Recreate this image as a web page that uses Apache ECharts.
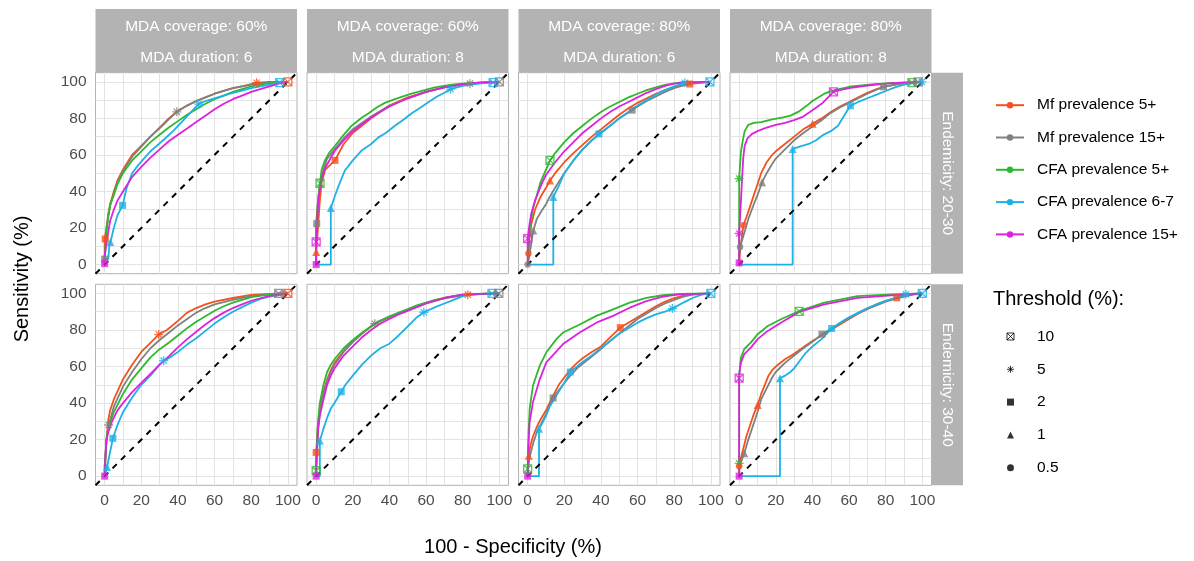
<!DOCTYPE html>
<html>
<head>
<meta charset="utf-8">
<title>ROC curves by MDA scenario</title>
<script src="https://cdn.jsdelivr.net/npm/echarts@6/dist/echarts.min.js"></script>
<style>
  html, body { margin: 0; padding: 0; background: #ffffff; }
  #chart { width: 1194px; height: 561px; }
</style>
</head>
<body>
<div id="chart"></div>
<script>
// Facet labels
const coverage = ['60%', '60%', '80%', '80%'];
const duration = ['6', '8', '6', '8'];
const endemicity = ['20-30', '30-40'];

// Indicators (one ROC curve each per panel)
const indicatorNames = ['Mf prevalence 5+', 'Mf prevalence 15+', 'CFA prevalence 5+', 'CFA prevalence 6-7', 'CFA prevalence 15+'];
const indicatorColors = ['#F4511E', '#808080', '#2EB82E', '#1DB2E6', '#DD22DD'];

// Axis ticks
const labelTicks = [0, 20, 40, 60, 80, 100];
const gridTicks = [0, 10, 20, 30, 40, 50, 60, 70, 80, 90, 100];

// ROC curves: [100 - specificity, sensitivity], panels 0-3 endemicity 20-30, panels 4-7 endemicity 30-40
const rocMf5 = [
  [[0,0],[0,14],[1,20],[2,28],[3,33],[5,40],[7,46],[10,52],[15,60],[20,65],[25,70],[30,75],[35,80],[40,84],[45,87],[50,89.5],[55,91.5],[60,93.5],[65,95],[70,96.5],[75,97.5],[80,98.8],[83,99.5],[90,100],[100,100]],
  [[0,0],[0,7],[1,20],[2,35],[3,45],[5,52],[10.3,57],[15,66],[20,72],[30,80],[40,87],[50,91.5],[60,94.5],[70,97],[80,98.8],[90,99.6],[100,100]],
  [[0,0],[0.4,6],[1,14],[2,22],[4,30],[7,37],[10,42],[12.2,46],[15,50],[20,56],[25,61],[30,65.5],[35,70],[40,74],[45,78],[50,82],[55,85.5],[60,88.5],[65,91],[70,93.5],[75,95.5],[80,97.2],[88.5,98.8],[95,99.6],[100,100]],
  [[0,0],[0.5,8],[1.5,15],[2.3,21.5],[4,26],[6,32],[8,38],[10,44],[12,50],[15,56],[18,60],[20,62],[25,66],[30,70],[35,74],[40,77],[45,80],[50,83.5],[55,86.5],[60,89],[65,91.5],[70,94],[75,96],[80,97.5],[90,99.3],[100,100]],
  [[0,0],[0,5],[1,20],[2,31],[3,36],[5,42],[10,53],[15,61],[20,68],[25,73],[29.5,77.5],[34,80],[40,85],[45,89.5],[50,92],[55,94],[60,95.5],[70,97.5],[80,99.2],[90,99.8],[100,100]],
  [[0,0],[0,13],[1,28],[2,37],[4,46],[6,53],[8,58],[10,62],[15,68.5],[20,73.5],[25,78],[30,82],[35,85],[40,87],[45,89],[50,91],[55,93],[60,94.8],[65,96.3],[70,97.5],[75,98.4],[82.8,99.3],[90,99.8],[100,100]],
  [[0,0],[0.6,11],[1.5,17],[3,22],[5,27],[7,31],[10,36],[13.9,44],[17,50],[20,54],[23.3,58.3],[27,62],[30,64.5],[35,68],[40,71],[45,76],[50.6,81.3],[55,84],[60,87],[65,90],[70,93],[75,95.5],[80,97.5],[85,98.8],[90,99.5],[100,100]],
  [[0,0],[0,5.4],[1,10],[2,14],[4,22],[6,28],[8,34],[10.1,39],[12,45],[14,50],[16,55],[18,58],[20,60],[25,64],[30,67],[35,70.5],[40,74],[45,77],[50,80],[55,83],[60,86],[65,89],[70,91.5],[75,94],[80,96],[86,97.6],[90,98.8],[95,99.6],[100,100]]
];
const rocMf15 = [
  [[0,0],[0,3],[1,18],[2,27],[3,32],[5,39],[7,45],[10,51],[15,59],[20,64.5],[25,70],[30,74.5],[35,79.5],[39.4,83.6],[45,87],[50,89.5],[55,91.5],[60,93.5],[65,95],[70,96.5],[75,97.5],[80,98.5],[90,99.7],[100,100]],
  [[0,0],[0,22.4],[1,35],[2,44],[4,52],[6,58],[10,63],[15,69],[20,74],[30,81],[40,87],[50,91],[60,94.5],[70,97],[84,99],[100,100]],
  [[0,0],[1,5],[2,12],[3.1,18.7],[5,25],[8,30],[10,33],[12,37],[15,42],[20,50],[25,57],[30,63],[35,68],[40,72],[45,76],[50,80],[57,84.5],[60,86.5],[65,89.5],[70,92],[75,94.5],[80,96.5],[85,98],[90,99.3],[100,100]],
  [[0,0],[0,5],[0.5,9.6],[3,18],[5,25],[8,33],[10,38],[12.5,45],[15,50],[18,55],[20,58],[25,63],[30,68],[35,72],[40,75.5],[45,79],[50,83],[55,86],[60,88.5],[65,91],[70,93.5],[78.8,97.3],[85,98.5],[92,99.5],[100,100]],
  [[0,0],[0,5],[1,20],[2.2,28],[5,38],[10,49],[15,57],[20,64],[25,70],[30,74.5],[35,78.5],[40,82.5],[45,86],[50,89.5],[55,92],[60,94],[70,96.5],[80,98.5],[90,99.5],[95,100],[100,100]],
  [[0,0],[0,2],[1,25],[2,35],[4,45],[6,52],[8,57],[10,61],[15,68],[20,73.5],[25,78],[32,83.4],[35,85],[40,87],[45,89],[50,91],[60,94.5],[70,97.3],[80,99],[90,99.6],[99.7,100],[100,100]],
  [[0,0],[0,3],[1,10],[3,18],[5,24],[8,30],[10,34],[13.9,42.8],[17,47],[20,51],[23.3,55],[27,59],[30,61.5],[35,65.5],[40,69.5],[45,74],[50,78],[55,82],[60,86],[65,89],[70,92],[75,94.5],[80,96.5],[85,98.3],[90,99.3],[100,100]],
  [[0,0],[0,3],[1,8],[2.8,12.5],[5,20],[8,29],[10,35],[12,42],[15,48],[18,54],[20,57],[25,62],[30,66],[35,70],[40,73.5],[45.2,77.7],[50,80.5],[55,83.5],[60,86.5],[65,89],[70,91.5],[75,93.5],[80,95.5],[85,97],[90,98.3],[95,99.3],[100,100]]
];
const rocCfa5 = [
  [[0,0],[0.5,10],[1,20],[2,26],[3,33],[5,38],[7,44],[10,50],[15,57],[20,62],[25,67],[30,71],[35,75],[40,78.5],[45,82],[50,85],[55,88],[60,90.5],[65,92.5],[70,94.5],[75,96],[80,97.5],[85,98.5],[90,99.3],[100,100]],
  [[0,0],[0,20],[1,35],[2.1,44.5],[3,52],[4.8,57],[7,61],[10.3,65],[15,71],[19.4,76],[25,80.5],[28.5,82.7],[33,86],[37.5,88.5],[43,90.5],[52,93.6],[64.8,97],[74,98.4],[83,99.3],[100,100]],
  [[0,0],[0.5,10],[1,18],[2,25],[3,31],[5,38],[7,45],[10,52],[12.2,57],[15,61],[20,67],[25,72],[30,76],[35,80],[40,83.5],[45,86.5],[50,89],[55,91.5],[60,93.5],[65,95.5],[70,97],[75,98.3],[80,99.2],[85,99.8],[100,100]],
  [[0,0],[0,47],[0.5,55],[1,62],[2,68],[3,73],[5,76.5],[8,77.5],[12,78],[18,79.5],[24,80.5],[28,81.5],[33,84],[37,87],[40,89.5],[46.5,93.5],[52,95.5],[60,97.3],[74,98.7],[85,99.4],[94.3,99.6],[100,100]],
  [[0,0],[0.5,10],[1,20],[2,27],[5,35],[10,45],[15,53],[20,59],[25,65],[30,69.5],[35,73],[40,77],[45,81],[50,84.5],[55,87.5],[60,90.5],[65,93],[70,95],[80,98],[90,99.5],[100,100]],
  [[0,0],[0,3],[0.5,20],[1,30],[2,40],[4,50],[6,57],[8,61],[10,64],[15,70],[20,74.5],[25,78.5],[30,82],[35,85],[40,87.5],[45,89.5],[50,91.5],[55,93.5],[60,95],[65,96.5],[70,97.5],[75,98.5],[80,99.3],[85,99.7],[100,100]],
  [[0,0],[0,4],[0.5,24],[1.1,37],[2.9,49.6],[6.6,60.5],[10.2,67.8],[15.7,75],[19.3,78.6],[28.4,83],[37.5,87.7],[46.6,91.3],[55.7,95],[64.8,97.6],[73.8,99],[83,99.8],[100,100]],
  [[0,0],[0,7],[0,55],[0.5,60],[1,65],[2.8,69.6],[6.5,73.2],[10.1,77.7],[15.6,82.2],[22.8,85.9],[32.8,90.4],[46.5,95],[64.6,98.5],[83,99.5],[100,100]]
];
const rocCfa67 = [
  [[0,0],[0,3],[2,3],[2.5,10],[3.1,12],[5,20],[7,27],[9.8,32.4],[12,42],[15,50],[18,54],[21.3,57.8],[25,62],[28.5,65],[33,69],[37.6,73.3],[42,78],[46.7,83],[51.3,87.8],[55,89.5],[60,91],[65,92.5],[70,94],[75,95.2],[80,96.5],[85,97.5],[90,98.5],[95.5,99.6],[100,100]],
  [[0,0],[8,0],[8,31],[10.3,37.8],[13,45],[15.7,51.5],[20,57],[24.8,62.4],[30,66],[34,69.6],[38,72],[43,76],[48,79.5],[52,82.7],[57,86],[61,88.7],[66,92],[70.3,94.2],[73.4,96],[80,97.8],[83,98.4],[90,99.2],[96.6,99.6],[100,100]],
  [[0,0],[14,0],[14,37],[17,43],[20,50],[25,57],[30,63],[35,68],[38.9,71.5],[45,76],[50,80],[55,83.5],[60,87],[65,90],[70,93],[75,95.5],[80,97.5],[85.8,99.5],[92,100],[100,100]],
  [[0,0],[29.2,0],[29.2,63.3],[33,64.5],[38,66],[42,68],[46,71],[50,73],[54,76],[57,81],[60.7,86.9],[65,89],[70,91],[75,93],[80,95],[85,97],[90,98.5],[95,99.3],[99.7,100],[100,100]],
  [[0,0],[1.3,5],[4.5,20.7],[7,28],[10,35],[15,43],[20,50],[25,55],[30,61],[32.2,63.2],[35,64.5],[40,68],[45,72],[50,75.5],[55,79.5],[60,83.5],[65,87],[70,90],[75,92.5],[80,95],[85,97],[90,98.3],[95,99],[100,100]],
  [[0,0],[2,0],[2,19.4],[4,26],[6,32],[8,37],[10,40],[13.7,46.2],[16,50],[20,55],[25,61],[30,66],[35,70],[40,72.5],[45,77],[50,82],[55,87],[58.8,89.7],[65,92.5],[70,94.5],[75,96.5],[80,98.5],[85,99.5],[96,100],[100,100]],
  [[0,0],[6.2,0],[6.2,26],[8,29],[10,33],[12,38],[15,43],[18,48],[20,51],[23.3,57],[27,60],[30,62.5],[35,66],[40,70],[45,74],[50,78],[55,81],[60,84],[65,86.5],[70,88.5],[75,90],[79,91.7],[85,95],[90,97.5],[95,99.3],[100,100]],
  [[0,0],[22.3,0],[22.3,53.6],[25,55],[28,57],[30,59],[33,63],[36,67],[40,71],[45,75],[50.5,80.8],[55,84],[60,87],[65,89.5],[70,92],[75,94],[80,96],[85,97.5],[91,99.5],[95,99.8],[100,100]]
];
const rocCfa15 = [
  [[0,0],[0,5],[1,12],[2,18],[3,24],[5,30],[7,35],[10,40],[15,48],[20,53.5],[25,58.5],[30,63],[35,67.5],[40,71],[45,74.5],[50,78],[55,81.5],[60,85],[65,88],[70,90.5],[75,92.5],[80,94.5],[85,96],[90,97.5],[95,99],[100,100]],
  [[0,0],[0,12.4],[0.5,25],[1.5,38],[3,47],[5,53],[10,62],[15,68],[20,73],[30,80.5],[40,86.5],[50,91],[60,94.5],[70,97],[80,98.8],[90,99.7],[100,100]],
  [[0,0],[0,14.2],[1,22],[2,28],[4,35],[6,40],[8,45],[10,49],[15,56],[20,62],[25,67],[30,72],[35,76],[40,80],[45,83.5],[50,86.5],[55,89],[60,91.5],[65,94],[70,96],[75,97.8],[80,99],[85,99.7],[100,100]],
  [[0,0],[0,17],[0.7,30],[1.5,45],[2.2,58],[3,65],[4.5,69],[7,71.5],[10,73],[15,75],[20,76.5],[25,77.5],[30,79],[35,81],[40,84.5],[45,88],[48,91],[51.5,94.5],[55,95.5],[60,96.5],[70,98],[80,99],[90,99.7],[100,100]],
  [[0,0],[0.5,12],[1,20],[2,24],[4,30],[7,36],[10,40],[15,46],[20,51],[25,56],[30,61],[35,65.5],[40,70.5],[45,75],[50,79],[55,83],[60,86.5],[65,89.5],[70,92],[75,94],[80,96],[90,98.7],[100,100]],
  [[0,0],[0,5],[0.5,15],[1,25],[2,33],[4,42],[6,50],[8,55],[10,59],[15,66],[20,71],[25,76],[30,80],[35,83.5],[40,86],[45,88.5],[50,90.5],[55,92.5],[60,94.5],[65,96],[70,97.5],[75,98.5],[80,99.3],[90,99.8],[100,100]],
  [[0,0],[0.3,15],[1.1,29.7],[2.9,40.6],[6.6,53],[10.2,62.3],[19.3,72.3],[28.4,78.6],[37.5,84],[46.6,87.7],[55.7,92.2],[64.8,95.8],[73.8,98.2],[83,99.5],[100,100]],
  [[0,0],[0,53.6],[0.3,58],[1,62.3],[2.8,66.8],[6.5,70.5],[10.1,75],[15.6,79.5],[22.8,84],[32.8,89.9],[46.5,94],[64.6,97.6],[83,98.9],[100,100]]
];
const rocCurves = [rocMf5, rocMf15, rocCfa5, rocCfa67, rocCfa15];

// Threshold points: [panel, indicator, 100 - specificity, sensitivity]
const thresholdNames = ['10', '5', '2', '1', '0.5'];
const thr10 = [
  [0,0,100,100],[0,3,95.5,99.6],
  [1,4,0,12.4],[1,1,100,100],[1,2,2.1,44.5],[1,3,96.6,99.6],
  [2,2,12.2,57],[2,4,0,14.2],[2,3,99.5,100],
  [3,4,51.5,94.5],[3,2,94.3,99.6],[3,1,97.7,100],
  [4,0,100,100],[4,1,95,100],
  [5,3,96,100],[5,1,99.7,100],[5,2,0,3],
  [6,3,100,100],[6,2,0,4],
  [7,4,0,53.6],[7,2,32.8,90.2],[7,3,100,100]
];
const thr5 = [
  [0,0,83,99.5],[0,1,39.4,83.6],[0,3,51.3,87.8],
  [1,1,84,99],[1,3,73.4,96],
  [2,3,85.8,99.5],
  [3,4,0,17],[3,2,0,47],[3,3,99.7,100],
  [4,0,29.5,77.5],[4,1,2.2,28],[4,3,32.2,63.2],
  [5,0,82.8,99.3],[5,3,58.8,89.7],[5,1,32,83.4],
  [6,3,79,91.7],
  [7,2,0,7],[7,3,91,99.5]
];
const thr2 = [
  [0,0,0.3,14],[0,1,0,3],[0,4,0,0.5],[0,3,9.8,32.4],
  [1,0,10.3,57],[1,1,0.3,22.4],[1,4,0,0],
  [2,3,38.9,71.5],[2,0,88.5,98.8],[2,1,57,84.5],
  [3,4,0,0.9],[3,1,78.8,97.3],[3,3,60.7,86.9],
  [4,4,0,0],[4,3,4.5,20.7],
  [5,0,0,13],[5,3,13.7,46.2],[5,4,0,0],
  [6,0,50.6,81.3],[6,1,13.9,42.8],[6,3,23.3,57],[6,4,0,0],
  [7,4,0,0],[7,1,45.2,77.7],[7,3,50.5,80.8],[7,0,86,97.6]
];
const thr1 = [
  [0,3,3.1,12.4],
  [1,0,0,6.9],[1,3,8,31],
  [2,3,14,37],[2,0,12.2,46],[2,1,3.1,18.7],
  [3,0,40.1,77],[3,1,12.5,45],[3,3,29.2,63.3],
  [4,3,1.3,5],
  [5,3,2,19.4],
  [6,0,0.6,11.2],[6,3,6.2,26],
  [7,0,10.1,39],[7,1,2.8,12.5],[7,3,22.3,53.6]
];
const thr05 = [
  [2,0,0.4,6],[2,1,0,0],
  [3,0,2.3,21.5],[3,1,0.5,9.6],
  [7,0,0,5.4]
];
const thresholdPoints = [thr10, thr5, thr2, thr1, thr05];

// Marker shapes for each threshold
const crossedSquare = 'path://M0,0L10,0L10,10L0,10ZM0,0L10,10M10,0L0,10';
const asterisk = 'path://M5,0L5,10M0,5L10,5M1.5,1.5L8.5,8.5M8.5,1.5L1.5,8.5';
const thresholdSymbols = [crossedSquare, asterisk, 'rect', 'triangle', 'circle'];
const thresholdSizes = [8, 9, 7, 8, 6.5];
const thresholdOpen = [true, true, false, false, false];

// Layout
const FONT = "'Liberation Sans', Arial, Helvetica, sans-serif";
const colLeft = [95.5, 307, 518.5, 730];
const rowTop = [72.7, 284.3];
const panelW = 201.5;
const panelH = 201;

const chart = echarts.init(document.getElementById('chart'), null, { renderer: 'canvas' });

const grids = [], xAxes = [], yAxes = [], series = [], graphics = [];

for (let p = 0; p < 8; p++) {
  const r = Math.floor(p / 4), c = p % 4;
  grids.push({
    left: colLeft[c], top: rowTop[r], width: panelW, height: panelH,
    show: true, borderColor: '#B3B3B3', borderWidth: 1, backgroundColor: '#FFFFFF',
    containLabel: false, outerBoundsMode: 'none'
  });
  const axisCommon = {
    type: 'value', gridIndex: p, min: -5, max: 105,
    axisLine: { show: false },
    axisTick: { show: false, customValues: gridTicks },
    splitLine: { show: true, lineStyle: { color: '#E3E3E3', width: 1 } },
    minorSplitLine: { show: false }
  };
  xAxes.push(Object.assign({}, axisCommon, {
    axisLabel: { show: r === 1, customValues: labelTicks, color: '#4D4D4D', fontSize: 15.5, fontFamily: FONT, margin: 7 }
  }));
  yAxes.push(Object.assign({}, axisCommon, {
    axisLabel: { show: c === 0, customValues: labelTicks, color: '#4D4D4D', fontSize: 15.5, fontFamily: FONT, margin: 9 }
  }));

  // ROC curves
  rocCurves.forEach((curve, k) => {
    series.push({
      type: 'line', name: indicatorNames[k], xAxisIndex: p, yAxisIndex: p,
      data: curve[p], symbol: 'none', silent: true, z: 2 + k * 0.1,
      lineStyle: { color: indicatorColors[k], width: 1.8 },
      itemStyle: { color: indicatorColors[k] }
    });
  });

  // Reference diagonal
  series.push({
    type: 'line', name: 'reference', xAxisIndex: p, yAxisIndex: p,
    data: [[-5, -5], [105, 105]], symbol: 'none', silent: true, z: 3,
    lineStyle: { color: '#000000', width: 2, type: [6, 6] }
  });

  // Threshold markers
  thresholdPoints.forEach((pts, t) => {
    const open = thresholdOpen[t];
    series.push({
      type: 'scatter', name: thresholdNames[t], xAxisIndex: p, yAxisIndex: p,
      symbol: thresholdSymbols[t], symbolSize: thresholdSizes[t], z: 4,
      itemStyle: open ? { color: 'transparent', borderColor: '#000000', borderWidth: 1.2 } : { color: '#000000' },
      data: pts.filter(d => d[0] === p).map(d => ({
        value: [d[2], d[3]],
        itemStyle: open
          ? { color: 'transparent', borderColor: indicatorColors[d[1]], borderWidth: 1.3 }
          : { color: indicatorColors[d[1]] }
      }))
    });
  });
}

// Facet strips
for (let c = 0; c < 4; c++) {
  graphics.push({ type: 'rect', shape: { x: colLeft[c], y: 9, width: panelW, height: rowTop[0] - 9 }, style: { fill: '#B3B3B3' }, silent: true });
  graphics.push({ type: 'text', x: colLeft[c] + panelW / 2, y: 26.5,
    style: { text: 'MDA coverage: ' + coverage[c], fill: '#FFFFFF', fontSize: 15.5, fontFamily: FONT, textAlign: 'center', textVerticalAlign: 'middle', align: 'center', verticalAlign: 'middle' } });
  graphics.push({ type: 'text', x: colLeft[c] + panelW / 2, y: 57.5,
    style: { text: 'MDA duration: ' + duration[c], fill: '#FFFFFF', fontSize: 15.5, fontFamily: FONT, textAlign: 'center', textVerticalAlign: 'middle', align: 'center', verticalAlign: 'middle' } });
}
for (let r = 0; r < 2; r++) {
  const sx = colLeft[3] + panelW;
  graphics.push({ type: 'rect', shape: { x: sx, y: rowTop[r], width: 31.5, height: panelH }, style: { fill: '#B3B3B3' }, silent: true });
  graphics.push({ type: 'text', x: sx + 16, y: rowTop[r] + panelH / 2, rotation: -Math.PI / 2,
    style: { text: 'Endemicity: ' + endemicity[r], fill: '#FFFFFF', fontSize: 15.5, fontFamily: FONT, textAlign: 'center', textVerticalAlign: 'middle', align: 'center', verticalAlign: 'middle' } });
}

// Axis titles
graphics.push({ type: 'text', x: 22, y: 279, rotation: Math.PI / 2,
  style: { text: 'Sensitivity (%)', fill: '#000000', fontSize: 20, fontFamily: FONT, textAlign: 'center', textVerticalAlign: 'middle', align: 'center', verticalAlign: 'middle' } });
graphics.push({ type: 'text', x: 513, y: 547,
  style: { text: '100 - Specificity (%)', fill: '#000000', fontSize: 20, fontFamily: FONT, textAlign: 'center', textVerticalAlign: 'middle', align: 'center', verticalAlign: 'middle' } });
// Threshold legend title
graphics.push({ type: 'text', x: 993, y: 299.5,
  style: { text: 'Threshold (%):', fill: '#000000', fontSize: 20, fontFamily: FONT, textAlign: 'left', textVerticalAlign: 'middle', align: 'left', verticalAlign: 'middle' } });

// Threshold legend entries in black, open shapes drawn as outlines
const thresholdLegendData = thresholdNames.map((name, t) => ({
  name: name,
  itemStyle: thresholdOpen[t]
    ? { color: 'transparent', borderColor: '#000000', borderWidth: 1 }
    : { color: '#000000', borderWidth: 0 }
}));

const option = {
  animation: false,
  backgroundColor: '#FFFFFF',
  textStyle: { fontFamily: FONT },
  grid: grids,
  xAxis: xAxes,
  yAxis: yAxes,
  legend: [
    {
      data: indicatorNames, orient: 'vertical', left: 995, top: 97.2,
      itemWidth: 28, itemHeight: 8, itemGap: 16.3, padding: 0,
      textStyle: { fontSize: 15.5, color: '#000000', fontFamily: FONT, padding: [0, 0, 0, 8] }
    },
    {
      data: thresholdLegendData, orient: 'vertical', left: 1006.5, top: 328.5,
      itemWidth: 7, itemHeight: 7, itemGap: 16.8, padding: 0,
      textStyle: { fontSize: 15.5, color: '#000000', fontFamily: FONT, padding: [0, 0, 0, 18] }
    }
  ],
  graphic: graphics,
  series: series
};

chart.setOption(option);
</script>
</body>
</html>
